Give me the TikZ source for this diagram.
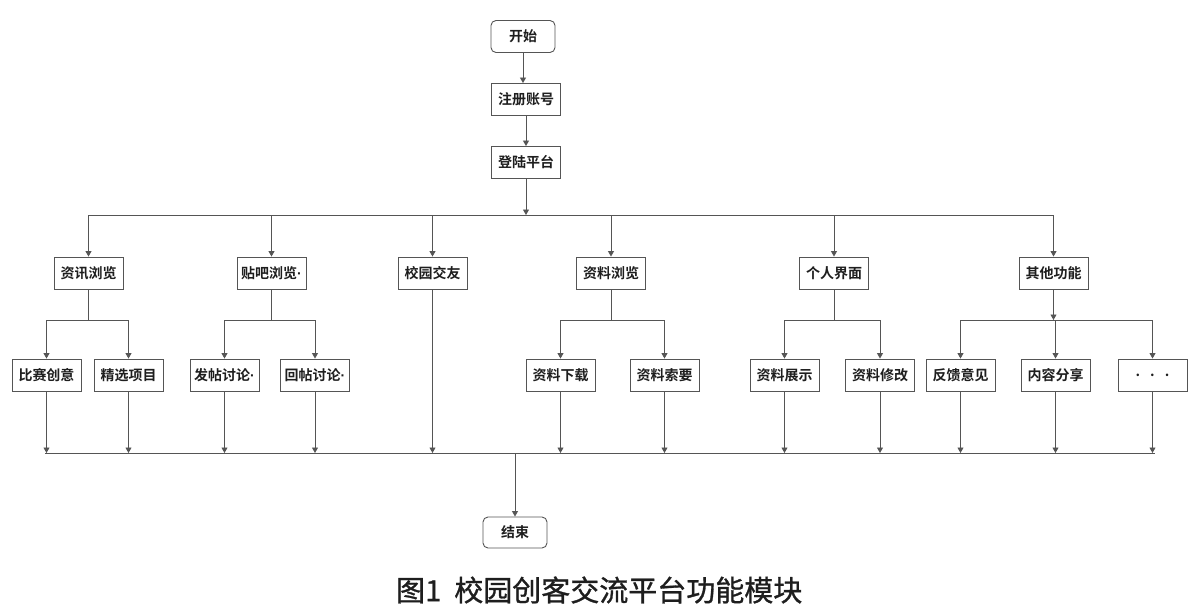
\documentclass[tikz,border=0pt]{standalone}
\usepackage{fontspec}
\setmainfont{Noto Sans CJK SC}
\newfontfamily\boxfont{Noto Sans CJK SC}[BoldFont={Noto Sans CJK SC Bold}]
\newfontfamily\dotfont{Liberation Sans}
\newcommand{\mdot}{{\dotfont\bfseries ·}}
\usetikzlibrary{arrows.meta,positioning,calc}
\definecolor{linegray}{HTML}{555555}
\definecolor{txt}{HTML}{1E1E1E}
\tikzset{
  box/.style={draw=linegray, line width=0.9pt, fill=white, minimum width=69pt, minimum height=32pt,
    inner sep=0pt, font=\boxfont\bfseries\fontsize{14pt}{16pt}\selectfont, text=txt},
  term/.style={box, rounded corners=5pt, minimum width=64pt},
  conn/.style={draw=linegray, line width=0.9pt},
  arr/.style={conn, -{Triangle[length=5.5pt,width=6pt]}},
}
\begin{document}
\begin{tikzpicture}[x=1pt,y=-1pt]
\useasboundingbox (0,0) rectangle (1200,615);
% top chain
\node[term] (start) at (523,36.5) {开始};
\node[box]  (reg)   at (526,99.5) {注册账号};
\node[box]  (login) at (526,162.5) {登陆平台};
% level 2
\node[box] (a) at (88.5,273) {资讯浏览};
\node[box] (b) at (271.5,273) {贴吧浏览\mdot};
\node[box] (c) at (432.5,273) {校园交友};
\node[box] (d) at (611,273) {资料浏览};
\node[box] (e) at (834,273) {个人界面};
\node[box] (f) at (1053.5,273) {其他功能};
% level 3
\node[box] (a1) at (46.5,375) {比赛创意};
\node[box] (a2) at (128.5,375) {精选项目};
\node[box] (b1) at (224.5,375) {发帖讨论\mdot};
\node[box] (b2) at (315,375) {回帖讨论\mdot};
\node[box] (d1) at (560.5,375) {资料下载};
\node[box] (d2) at (664.5,375) {资料索要};
\node[box] (e1) at (784.5,375) {资料展示};
\node[box] (e2) at (880,375) {资料修改};
\node[box] (f1) at (960.5,375) {反馈意见};
\node[box] (f2) at (1055.5,375) {内容分享};
\node[box] (f3) at (1152.5,375) {\raisebox{-2pt}{.\hspace{10pt}.\hspace{10pt}.}};
% end
\node[term, minimum height=31pt] (end) at (515,532.5) {结束};
% caption
\node[font=\addfontfeature{FakeBold=1}\fontsize{29pt}{32pt}\selectfont, text=txt, anchor=west, inner sep=0pt] (cap) at (396,590) {图1\hspace{0.45em}校园创客交流平台功能模块};
% bus coordinates
\coordinate (B1) at (0,215);
\coordinate (B2) at (0,320);
\coordinate (B3L) at (45,453);
\coordinate (B3R) at (1155,453);
% chain arrows
\draw[arr] (start.south) -- (start.south |- reg.north);
\draw[arr] (reg.south) -- (login.north);
\draw[arr] (login.south) -- (login |- B1);
\draw[conn] (a |- B1) -- (f |- B1);
\foreach \n in {a,b,c,d,e,f} \draw[arr] (\n |- B1) -- (\n.north);
% sub-buses
\draw[conn] (a.south) -- (a |- B2);
\draw[conn] (a1 |- B2) -- (a2 |- B2);
\draw[conn] (b.south) -- (b |- B2);
\draw[conn] (b1 |- B2) -- (b2 |- B2);
\draw[conn] (d.south) -- (d |- B2);
\draw[conn] (d1 |- B2) -- (d2 |- B2);
\draw[conn] (e.south) -- (e |- B2);
\draw[conn] (e1 |- B2) -- (e2 |- B2);
\draw[arr] (f.south) -- (f |- B2);
\draw[conn] (f1 |- B2) -- (f3 |- B2);
\foreach \n in {a1,a2,b1,b2,d1,d2,e1,e2,f1,f2,f3} \draw[arr] (\n |- B2) -- (\n.north);
% to bottom bus
\foreach \n in {a1,a2,b1,b2,c,d1,d2,e1,e2,f1,f2,f3} \draw[arr] (\n.south) -- (\n |- B3L);
\draw[conn] (B3L) -- (B3R);
\draw[arr] (end |- B3L) -- (end.north);
\end{tikzpicture}
\end{document}
